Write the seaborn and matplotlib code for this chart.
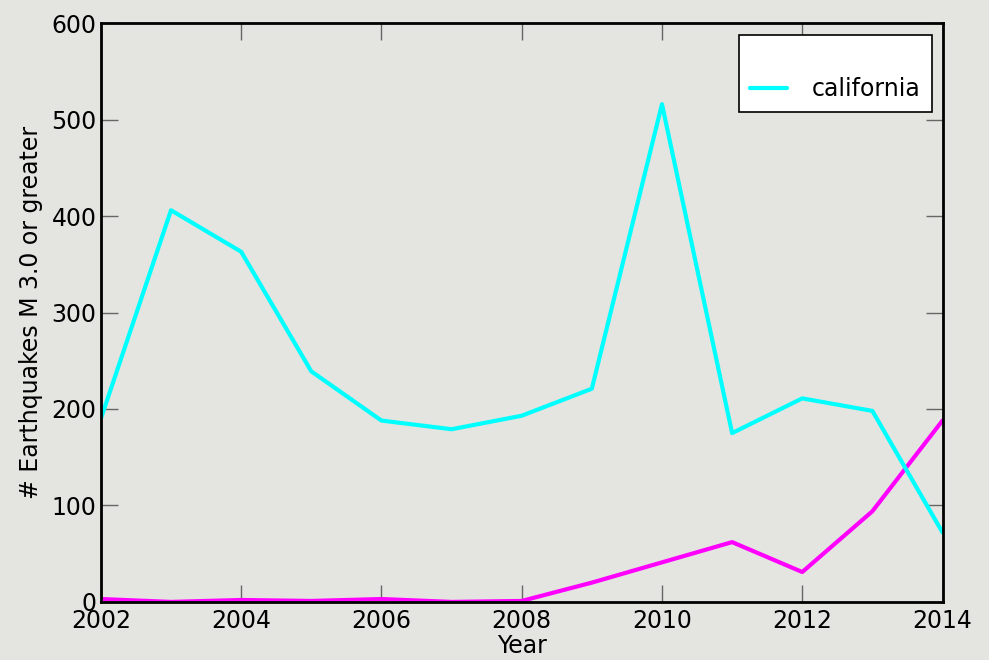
import matplotlib
matplotlib.use("Agg")
import matplotlib.pyplot as plt
import seaborn as sns
import pandas as pd
from matplotlib.lines import Line2D

years = [2002, 2003, 2004, 2005, 2006, 2007, 2008, 2009, 2010, 2011, 2012, 2013, 2014]
california = [190, 406, 363, 239, 188, 179, 193, 221, 516, 175, 211, 198, 72]
other = [3, 0, 2, 1, 3, 0, 1, 20, 41, 62, 31, 94, 188]
x_ticks = [2002, 2004, 2006, 2008, 2010, 2012, 2014]
y_ticks = [0, 100, 200, 300, 400, 500, 600]

sns.set_style("ticks")
plt.rcParams['font.family'] = ['DejaVu Sans']

df_ca = pd.DataFrame({"Year": years, "count": california})
df_ot = pd.DataFrame({"Year": years, "count": other})

fig = plt.figure(figsize=(9.89, 6.60), dpi=100)
bg = "#e4e4e0"
fig.patch.set_facecolor(bg)
ax = fig.add_axes([0.102, 0.088, 0.851, 0.877])
ax.set_facecolor(bg)

sns.lineplot(data=df_ot, x="Year", y="count", ax=ax, color="#ff00ff", lw=3, legend=False)
sns.lineplot(data=df_ca, x="Year", y="count", ax=ax, color="#00ffff", lw=3, legend=False)

ax.set_xlim(2002, 2014)
ax.set_ylim(0, 600)
ax.set_xticks(x_ticks)
ax.set_xticklabels([str(t) for t in x_ticks])
ax.set_yticks(y_ticks)
ax.tick_params(direction="in", length=12, width=1, color="#666666", labelsize=17,
               top=True, right=True, pad=3, labelcolor="black")
ax.tick_params(axis="x", pad=5)
for s in ax.spines.values():
    s.set_color("black")
    s.set_linewidth(2)
    s.set_visible(True)

ax.set_xlabel("Year", fontsize=17, labelpad=1, color="black")
ax.set_ylabel("# Earthquakes M 3.0 or greater", fontsize=17, labelpad=6, color="black")

handles = [Line2D([], [], color="none", lw=3),
           Line2D([], [], color="#00ffff", lw=3)]
leg = ax.legend(handles, [" ", "california"], loc="upper right", fontsize=17,
                fancybox=False, framealpha=1, edgecolor="black", handlelength=1.6,
                borderpad=0.45, labelspacing=0.3, handletextpad=1.05,
                borderaxespad=0, bbox_to_anchor=(0.987, 0.979))
leg.get_frame().set_linewidth(1.2)
for t in leg.get_texts():
    t.set_color("black")

fig.savefig("out.png", dpi=100, facecolor=bg)
